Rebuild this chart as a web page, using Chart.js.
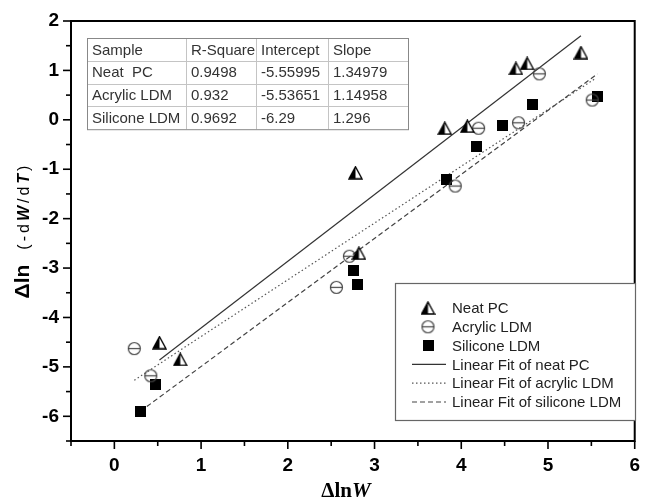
<!DOCTYPE html>
<html lang="en">
<head>
    <meta charset="UTF-8">
    <title>ΔlnW vs Δln(-dW/dT)</title>
    <script src="https://cdn.jsdelivr.net/npm/chart.js"></script>
    <style>
        body { margin: 0; background: #fff; }
    </style>
</head>
<body>
    <canvas id="fitChart" width="645" height="500"></canvas>
    <script>
        // values
        const neatX = [0.52, 0.76, 2.78, 2.82, 3.81, 4.07, 4.63, 4.76, 5.38];
        const neatY = [-4.51, -4.85, -1.07, -2.70, -0.17, -0.13, 1.04, 1.14, 1.36];
        const acrylicX = [0.23, 0.42, 2.56, 2.71, 3.93, 4.20, 4.66, 4.90, 5.51];
        const acrylicY = [-4.63, -5.18, -3.39, -2.76, -1.34, -0.17, -0.06, 0.93, 0.40];
        const siliconeX = [0.30, 0.48, 2.76, 2.80, 3.83, 4.18, 4.47, 4.82, 5.57];
        const siliconeY = [-5.91, -5.35, -3.05, -3.34, -1.20, -0.54, -0.12, 0.32, 0.47];

        // fit line end points
        const neatFitX = [0.52, 5.38];
        const neatFitY = [-4.86, 1.70];
        const acrylicFitX = [0.23, 5.55];
        const acrylicFitY = [-5.27, 0.84];
        const siliconeFitX = [0.30, 5.57];
        const siliconeFitY = [-5.90, 0.93];

        const legendLabels = ['Neat PC', 'Acrylic LDM', 'Silicone LDM',
            'Linear Fit of neat PC', 'Linear Fit of acrylic LDM', 'Linear Fit of silicone LDM'];

        const tableHeader = ['Sample', 'R-Square', 'Intercept', 'Slope'];
        const tableRows = [
            ['Neat  PC', '0.9498', '-5.55995', '1.34979'],
            ['Acrylic LDM', '0.932', '-5.53651', '1.14958'],
            ['Silicone LDM', '0.9692', '-6.29', '1.296']
        ];

        const xMin = -0.5, xMax = 6;
        const yMin = -6.5, yMax = 2;

        const SANS = "'Liberation Sans', Arial, sans-serif";
        const SERIF = "'Liberation Serif', 'Times New Roman', serif";

        function toPoints(xs, ys) {
            return xs.map((x, i) => ({ x: x, y: ys[i] }));
        }

        // marker images
        function triangleMarker() {
            const c = document.createElement('canvas');
            c.width = 15; c.height = 14;
            const g = c.getContext('2d');
            g.beginPath();
            g.moveTo(7.5, 1); g.lineTo(14, 13); g.lineTo(1, 13); g.closePath();
            g.fillStyle = '#fff'; g.fill();
            g.beginPath();
            g.moveTo(7.5, 1); g.lineTo(7.5, 13); g.lineTo(1, 13); g.closePath();
            g.fillStyle = '#000'; g.fill();
            g.beginPath();
            g.moveTo(7.5, 1); g.lineTo(14, 13); g.lineTo(1, 13); g.closePath();
            g.strokeStyle = '#000'; g.lineWidth = 1.4; g.lineJoin = 'miter'; g.stroke();
            return c;
        }
        function circleMarker() {
            const c = document.createElement('canvas');
            c.width = 15; c.height = 15;
            const g = c.getContext('2d');
            g.beginPath();
            g.arc(7.5, 7.5, 6, 0, Math.PI * 2);
            g.strokeStyle = '#444'; g.lineWidth = 1.2; g.stroke();
            g.beginPath();
            g.moveTo(1.5, 7.5); g.lineTo(13.5, 7.5); g.stroke();
            return c;
        }
        function squareMarker() {
            const c = document.createElement('canvas');
            c.width = 11; c.height = 11;
            const g = c.getContext('2d');
            g.fillStyle = '#000';
            g.fillRect(0, 0, 11, 11);
            return c;
        }
        const markers = [triangleMarker(), circleMarker(), squareMarker()];
        const fitStyles = [
            { color: '#333', dash: [], width: 1.2 },
            { color: '#555', dash: [1.5, 2.5], width: 1.2 },
            { color: '#444', dash: [5, 3], width: 1.2 }
        ];

        // frame, minor/major ticks, axis titles
        const framePlugin = {
            id: 'frame',
            afterDraw(chart) {
                const ctx = chart.ctx;
                const a = chart.chartArea;
                const xs = chart.scales.x, ys = chart.scales.y;
                ctx.save();
                ctx.strokeStyle = '#000';
                ctx.lineWidth = 1.6;
                xs.ticks.forEach(t => {
                    const p = xs.getPixelForValue(t.value);
                    const len = Number.isInteger(t.value) ? 8 : 5;
                    ctx.beginPath(); ctx.moveTo(p, a.bottom); ctx.lineTo(p, a.bottom + len); ctx.stroke();
                });
                ys.ticks.forEach(t => {
                    const p = ys.getPixelForValue(t.value);
                    const len = Number.isInteger(t.value) ? 8 : 5;
                    ctx.beginPath(); ctx.moveTo(a.left, p); ctx.lineTo(a.left - len, p); ctx.stroke();
                });
                ctx.lineWidth = 2;
                ctx.strokeRect(a.left, a.top, a.right - a.left, a.bottom - a.top);

                // y title, reads bottom to top
                const yParts = [
                    ['Δln', 'bold 21px ' + SANS, 0],
                    ['', '16px ' + SANS, 0, 15],
                    ['(-d', '16px ' + SANS, 3],
                    ['W', 'italic bold 16px ' + SANS, 3],
                    ['/d', '16px ' + SANS, 3],
                    ['T', 'italic bold 16px ' + SANS, 3],
                    [')', '16px ' + SANS, 0]
                ];
                drawParts(ctx, yParts, 29, 232, -Math.PI / 2);

                // x title
                const xParts = [
                    ['Δln', 'bold 21px ' + SERIF, 0],
                    ['W', 'italic bold 21px ' + SERIF, 0]
                ];
                drawParts(ctx, xParts, 346, 497, 0);
                ctx.restore();
            }
        };

        function partWidth(ctx, p) {
            ctx.font = p[1];
            ctx.letterSpacing = p[2] + 'px';
            return ctx.measureText(p[0]).width + (p[3] || 0);
        }

        function drawParts(ctx, parts, cx, baseline, angle) {
            let total = 0;
            parts.forEach(p => { total += partWidth(ctx, p); });
            ctx.save();
            ctx.translate(cx, baseline);
            ctx.rotate(angle);
            ctx.fillStyle = '#000';
            ctx.textBaseline = 'alphabetic';
            let x = -total / 2;
            parts.forEach(p => {
                const w = partWidth(ctx, p);
                ctx.fillText(p[0], x, 0);
                x += w;
            });
            ctx.letterSpacing = '0px';
            ctx.restore();
        }

        // statistics table in the upper left
        const tablePlugin = {
            id: 'statTable',
            afterDraw(chart) {
                const ctx = chart.ctx;
                const left = 87, top = 38, rowH = 22.8;
                const cols = [87, 186, 256, 328, 408];
                const rows = [tableHeader].concat(tableRows);
                const bottom = top + rowH * rows.length;
                ctx.save();
                ctx.fillStyle = '#fff';
                ctx.fillRect(left, top, cols[4] - left, bottom - top);
                ctx.strokeStyle = '#c4c4c4';
                ctx.lineWidth = 1;
                for (let r = 1; r < rows.length; r++) {
                    const y = Math.round(top + r * rowH) + 0.5;
                    ctx.beginPath(); ctx.moveTo(left, y); ctx.lineTo(cols[4], y); ctx.stroke();
                }
                for (let c = 1; c < cols.length - 1; c++) {
                    ctx.beginPath(); ctx.moveTo(cols[c] + 0.5, top); ctx.lineTo(cols[c] + 0.5, bottom); ctx.stroke();
                }
                ctx.strokeStyle = '#888';
                ctx.strokeRect(left + 0.5, top + 0.5, cols[4] - left, bottom - top);
                ctx.fillStyle = '#333';
                ctx.font = '15px ' + SANS;
                ctx.textBaseline = 'middle';
                rows.forEach((row, r) => {
                    row.forEach((txt, c) => {
                        ctx.fillText(txt, cols[c] + 5, top + r * rowH + rowH / 2 + 1);
                    });
                });
                ctx.restore();
            }
        };

        // legend box in the lower right
        const legendPlugin = {
            id: 'boxLegend',
            afterDraw(chart) {
                const ctx = chart.ctx;
                const bx = 395, by = 283, bw = 240, bh = 137;
                ctx.save();
                ctx.fillStyle = '#fff';
                ctx.fillRect(bx, by, bw, bh);
                ctx.strokeStyle = '#666';
                ctx.lineWidth = 1.2;
                ctx.strokeRect(bx + 0.5, by + 0.5, bw, bh);
                ctx.font = '15px ' + SANS;
                ctx.fillStyle = '#222';
                ctx.textBaseline = 'middle';
                legendLabels.forEach((label, i) => {
                    const y = 308 + i * 18.8;
                    if (i < 3) {
                        const m = markers[i];
                        ctx.drawImage(m, 428 - m.width / 2, y - m.height / 2);
                    } else {
                        const s = fitStyles[i - 3];
                        ctx.save();
                        ctx.strokeStyle = s.color;
                        ctx.lineWidth = s.width;
                        ctx.setLineDash(s.dash);
                        ctx.beginPath(); ctx.moveTo(412, y); ctx.lineTo(446, y); ctx.stroke();
                        ctx.restore();
                    }
                    ctx.fillText(label, 452, y + 1);
                });
                ctx.restore();
            }
        };

        function fitDataset(xs, ys, style) {
            return {
                data: toPoints(xs, ys),
                showLine: true,
                pointRadius: 0,
                borderColor: style.color,
                borderWidth: style.width,
                borderDash: style.dash,
                fill: false
            };
        }

        const ctx = document.getElementById('fitChart').getContext('2d');
        new Chart(ctx, {
            type: 'scatter',
            data: {
                datasets: [
                    { data: toPoints(neatX, neatY), pointStyle: markers[0] },
                    { data: toPoints(acrylicX, acrylicY), pointStyle: markers[1] },
                    { data: toPoints(siliconeX, siliconeY), pointStyle: markers[2] },
                    fitDataset(neatFitX, neatFitY, fitStyles[0]),
                    fitDataset(acrylicFitX, acrylicFitY, fitStyles[1]),
                    fitDataset(siliconeFitX, siliconeFitY, fitStyles[2])
                ]
            },
            options: {
                responsive: false,
                animation: false,
                events: [],
                devicePixelRatio: 1,
                layout: { padding: { left: 0, top: 21, right: 6, bottom: 0 } },
                plugins: {
                    legend: { display: false },
                    tooltip: { enabled: false }
                },
                scales: {
                    x: {
                        type: 'linear',
                        min: xMin,
                        max: xMax,
                        afterFit(scale) { scale.height = 59; },
                        border: { display: false },
                        grid: { drawOnChartArea: false, drawTicks: true, tickLength: 8, tickColor: 'rgba(0,0,0,0)' },
                        ticks: {
                            stepSize: 0.5,
                            autoSkip: false,
                            maxRotation: 0,
                            padding: 5,
                            color: '#000',
                            font: { family: SANS, size: 19, weight: 'bold' },
                            callback: v => Number.isInteger(v) ? String(v) : ''
                        }
                    },
                    y: {
                        type: 'linear',
                        min: yMin,
                        max: yMax,
                        afterFit(scale) { scale.width = 71; },
                        border: { display: false },
                        grid: { drawOnChartArea: false, drawTicks: true, tickLength: 8, tickColor: 'rgba(0,0,0,0)' },
                        ticks: {
                            stepSize: 0.5,
                            autoSkip: false,
                            padding: 4,
                            color: '#000',
                            font: { family: SANS, size: 19, weight: 'bold' },
                            callback: v => Number.isInteger(v) ? String(v) : ''
                        }
                    }
                }
            },
            plugins: [framePlugin, tablePlugin, legendPlugin]
        });
    </script>
</body>
</html>
